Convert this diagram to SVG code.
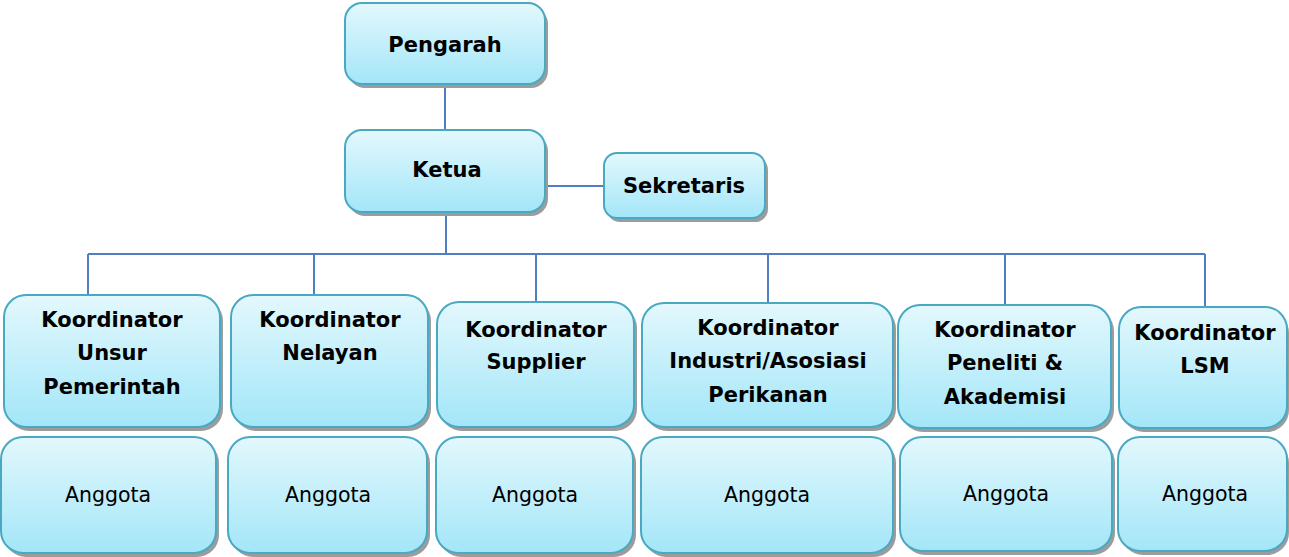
<svg xmlns="http://www.w3.org/2000/svg" width="1289" height="557" viewBox="0 0 1289 557">
<style>
.box{fill:url(#g);stroke:#4aa9c2;stroke-width:2}
.sh{fill:#9c9c9c}
.b{font-family:"DejaVu Sans",sans-serif;font-weight:bold;font-size:21px;fill:#000;text-anchor:middle}
.r{font-family:"DejaVu Sans",sans-serif;font-size:20.5px;fill:#000;text-anchor:middle}
.c{stroke:#4f7fc2;stroke-width:2;fill:none}
</style>
<defs>
<linearGradient id="g" x1="0" y1="0" x2="0" y2="1">
<stop offset="0" stop-color="#e3f8fd"/>
<stop offset="1" stop-color="#a3e6f8"/>
</linearGradient>
</defs>
<g id="connectors">
<path class="c" d="M445 85V130"/>
<path class="c" d="M545 186H604"/>
<path class="c" d="M446 212V254"/>
<path class="c" d="M88 254H1205"/>
<path class="c" d="M88 254V296M314 254V296M536 254V303M768 254V304M1005 254V306M1205 254V308"/>
</g>
<g id="pengarah"><rect class="sh" x="348" y="7" width="200" height="81" rx="17"/><rect class="box" x="345" y="3" width="200" height="81" rx="17"/><text class="b" x="445" y="52">Pengarah</text></g>
<g id="ketua"><rect class="sh" x="348" y="134" width="200" height="82" rx="17"/><rect class="box" x="345" y="130" width="200" height="82" rx="17"/><text class="b" x="447" y="177">Ketua</text></g>
<g id="sekretaris"><rect class="sh" x="607" y="157" width="161" height="65" rx="13"/><rect class="box" x="604" y="153" width="161" height="65" rx="13"/><text class="b" x="684" y="193">Sekretaris</text></g>
<g id="k1"><rect class="sh" x="7" y="299" width="216" height="132" rx="22"/><rect class="box" x="4" y="295" width="216" height="132" rx="22"/><text class="b" x="112" y="327">Koordinator</text><text class="b" x="112" y="360">Unsur</text><text class="b" x="112" y="394">Pemerintah</text></g>
<g id="k2"><rect class="sh" x="234" y="299" width="197" height="132" rx="22"/><rect class="box" x="231" y="295" width="197" height="132" rx="22"/><text class="b" x="330" y="327">Koordinator</text><text class="b" x="330" y="360">Nelayan</text></g>
<g id="k3"><rect class="sh" x="440" y="306" width="197" height="125" rx="22"/><rect class="box" x="437" y="302" width="197" height="125" rx="22"/><text class="b" x="536" y="337">Koordinator</text><text class="b" x="536" y="369">Supplier</text></g>
<g id="k4"><rect class="sh" x="645" y="307" width="251" height="124" rx="22"/><rect class="box" x="642" y="303" width="251" height="124" rx="22"/><text class="b" x="768" y="335">Koordinator</text><text class="b" x="768" y="368">Industri/Asosiasi</text><text class="b" x="768" y="402">Perikanan</text></g>
<g id="k5"><rect class="sh" x="901" y="309" width="213" height="123" rx="22"/><rect class="box" x="898" y="305" width="213" height="123" rx="22"/><text class="b" x="1005" y="337">Koordinator</text><text class="b" x="1005" y="370">Peneliti &amp;</text><text class="b" x="1005" y="404">Akademisi</text></g>
<g id="k6"><rect class="sh" x="1122" y="311" width="167" height="121" rx="22"/><rect class="box" x="1119" y="307" width="168" height="121" rx="22"/><text class="b" x="1205" y="340">Koordinator</text><text class="b" x="1205" y="373">LSM</text></g>
<g id="a1"><rect class="sh" x="4" y="441" width="215" height="116" rx="22"/><rect class="box" x="1" y="437" width="215" height="116" rx="22"/><text class="r" x="108" y="502">Anggota</text></g>
<g id="a2"><rect class="sh" x="231" y="441" width="199" height="116" rx="22"/><rect class="box" x="228" y="437" width="199" height="116" rx="22"/><text class="r" x="328" y="502">Anggota</text></g>
<g id="a3"><rect class="sh" x="439" y="441" width="197" height="116" rx="22"/><rect class="box" x="436" y="437" width="197" height="116" rx="22"/><text class="r" x="535" y="502">Anggota</text></g>
<g id="a4"><rect class="sh" x="644" y="441" width="252" height="116" rx="22"/><rect class="box" x="641" y="437" width="252" height="116" rx="22"/><text class="r" x="767" y="502">Anggota</text></g>
<g id="a5"><rect class="sh" x="903" y="441" width="212" height="114" rx="22"/><rect class="box" x="900" y="437" width="212" height="114" rx="22"/><text class="r" x="1006" y="501">Anggota</text></g>
<g id="a6"><rect class="sh" x="1121" y="441" width="168" height="114" rx="22"/><rect class="box" x="1118" y="437" width="169" height="114" rx="22"/><text class="r" x="1205" y="501">Anggota</text></g>
</svg>
